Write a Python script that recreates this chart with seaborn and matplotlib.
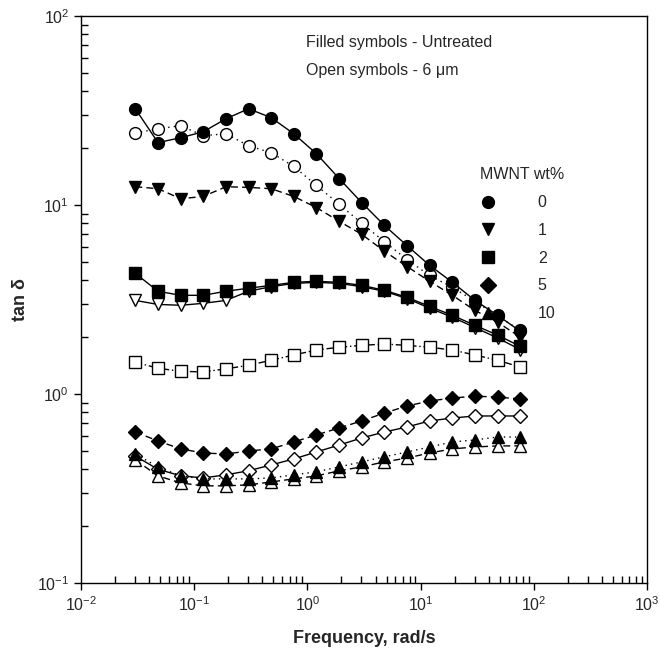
import matplotlib
matplotlib.use("Agg")
import matplotlib.pyplot as plt
import seaborn as sns
from matplotlib.lines import Line2D
from matplotlib.ticker import LogLocator, LogFormatterSciNotation, NullFormatter

sns.set_style("white")
plt.rcParams['font.family'] = ['Liberation Sans', 'DejaVu Sans']
plt.rcParams['mathtext.default'] = 'regular'
plt.rcParams['axes.unicode_minus'] = False

freq = [0.0302, 0.0479, 0.0759, 0.120, 0.191, 0.302, 0.479, 0.759, 1.20, 1.91,
        3.02, 4.79, 7.59, 12.0, 19.1, 30.2, 47.9, 75.9]

untreated_0 = [32.3, 21.4, 22.7, 24.4, 28.6, 32.3, 29.0, 23.8, 18.7, 13.8, 10.3, 7.8, 6.1, 4.8, 3.9, 3.13, 2.61, 2.15]
treated_0 = [24.1, 25.3, 26.3, 23.3, 23.8, 20.6, 18.9, 16.0, 12.7, 10.1, 8.0, 6.4, 5.15, 4.24, 3.67, 3.10, 2.58, 2.18]
untreated_1 = [12.5, 12.2, 10.8, 11.1, 12.5, 12.4, 12.2, 11.1, 9.7, 8.2, 7.0, 5.7, 4.73, 3.95, 3.33, 2.77, 2.40, 2.0]
treated_1 = [3.13, 2.98, 2.95, 3.02, 3.13, 3.50, 3.70, 3.85, 3.90, 3.85, 3.70, 3.50, 3.20, 2.85, 2.55, 2.25, 1.98, 1.72]
untreated_2 = [4.35, 3.50, 3.33, 3.33, 3.50, 3.63, 3.76, 3.90, 3.95, 3.90, 3.76, 3.54, 3.25, 2.91, 2.61, 2.31, 2.05, 1.79]
treated_2 = [1.475, 1.37, 1.32, 1.31, 1.36, 1.42, 1.51, 1.61, 1.71, 1.77, 1.81, 1.84, 1.81, 1.77, 1.71, 1.61, 1.51, 1.39]
untreated_5 = [0.630, 0.565, 0.513, 0.488, 0.482, 0.500, 0.513, 0.558, 0.608, 0.662, 0.721, 0.794, 0.865, 0.919, 0.953, 0.975, 0.964, 0.942]
treated_5 = [0.47, 0.40, 0.37, 0.36, 0.374, 0.393, 0.422, 0.454, 0.494, 0.538, 0.586, 0.630, 0.670, 0.721, 0.747, 0.766, 0.766, 0.766]
untreated_10 = [0.482, 0.412, 0.369, 0.356, 0.356, 0.356, 0.360, 0.374, 0.388, 0.412, 0.438, 0.466, 0.494, 0.525, 0.558, 0.572, 0.593, 0.593]
treated_10 = [0.449, 0.369, 0.339, 0.327, 0.327, 0.331, 0.343, 0.356, 0.369, 0.393, 0.412, 0.438, 0.459, 0.488, 0.513, 0.525, 0.532, 0.532]

legend_labels = ['0', '1', '2', '5', '10']
markers = ['o', 'v', 's', 'D', '^']

SOLID = ''
DASH = (5, 3)
DOT = (1, 3)
DASHDOT = (5, 2, 1, 2)

# (values, marker, filled, dashes, markersize)
series = [
    (treated_0, 'o', False, DOT, 8.5),
    (treated_1, 'v', False, SOLID, 8.5),
    (treated_2, 's', False, DASHDOT, 8),
    (treated_5, 'D', False, SOLID, 7.5),
    (treated_10, '^', False, DASH, 8.5),
    (untreated_0, 'o', True, SOLID, 8.5),
    (untreated_1, 'v', True, DASH, 8.5),
    (untreated_2, 's', True, SOLID, 8),
    (untreated_5, 'D', True, DASH, 7.5),
    (untreated_10, '^', True, DOT, 8.5),
]

fig = plt.figure(figsize=(6.6, 6.53), dpi=100)
ax = fig.add_axes([0.1227, 0.107, 0.8576, 0.8685])

for vals, mk, filled, dsh, ms in series:
    sns.lineplot(x=freq, y=vals, ax=ax, color='black', linewidth=1.0,
                 marker=mk, markersize=ms, markeredgecolor='black',
                 markeredgewidth=1.0,
                 markerfacecolor='black' if filled else 'white',
                 legend=False)
    ln = ax.lines[-1]
    if dsh == SOLID:
        ln.set_linestyle('-')
    else:
        ln.set_dashes(dsh)

ax.set_xscale('log')
ax.set_yscale('log')
ax.set_xlim(1e-2, 1e3)
ax.set_ylim(1e-1, 1e2)

for a in (ax.xaxis, ax.yaxis):
    a.set_major_locator(LogLocator(base=10, numticks=10))
    a.set_major_formatter(LogFormatterSciNotation())
    a.set_minor_locator(LogLocator(base=10, subs=range(2, 10), numticks=20))
    a.set_minor_formatter(NullFormatter())

ax.tick_params(which='major', direction='out', length=5, width=1, labelsize=11.5,
               color='black', bottom=True, left=True, top=False, right=False)
ax.tick_params(which='minor', direction='in', length=5, width=1,
               color='black', bottom=True, left=True, top=False, right=False)

for s in ax.spines.values():
    s.set_color('black')
    s.set_linewidth(1.0)

ax.set_xlabel('Frequency, rad/s', fontsize=13, fontweight='bold', labelpad=12)
ax.set_ylabel('tan δ', fontsize=13, fontweight='bold', labelpad=6)

H = fig.get_figheight() * fig.dpi
ax.text(306, H - 42, 'Filled symbols - Untreated', transform=None, fontsize=11.5,
        va='center', ha='left')
ax.text(306, H - 70, 'Open symbols - 6 μm', transform=None, fontsize=11.5,
        va='center', ha='left')

handles = [Line2D([], [], linestyle='none', marker=m, color='black',
                  markerfacecolor='black', markeredgecolor='black', markersize=8.5)
           for m in markers]
leg = ax.legend(handles, legend_labels, title='MWNT wt%', frameon=False,
                loc='upper left', bbox_to_anchor=(466 / 660, 1 - 153 / 653),
                bbox_transform=fig.transFigure, fontsize=11.5, title_fontsize=11.5,
                handletextpad=2.6, labelspacing=0.8, handlelength=1.0,
                alignment='left')

fig.savefig('out.png', dpi=100)
